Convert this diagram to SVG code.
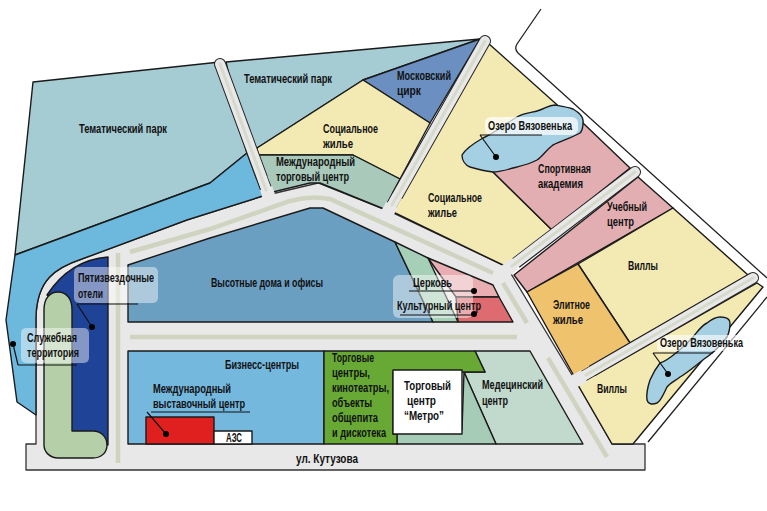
<svg xmlns="http://www.w3.org/2000/svg" width="767" height="511" viewBox="0 0 767 511">
<style>
text{font-family:"Liberation Sans Narrow","Liberation Sans",Arial,sans-serif;font-weight:700;font-size:12px;fill:#111}
.z{stroke:#1a1a1a;stroke-width:1.4;stroke-linejoin:round}
.rb{fill:none;stroke:#222;stroke-width:12;stroke-linecap:butt}
.rg{fill:none;stroke:#e8e8e8;stroke-width:10;stroke-linecap:round}
.rs{fill:none;stroke:#e8e8e8;stroke-width:13;stroke-linecap:butt}
.rc{fill:none;stroke:#cfd4c0;stroke-width:4.5;stroke-linecap:butt}
.rd{fill:none;stroke:#d6dacb;stroke-width:3;stroke-linecap:round}
.lb{fill:#fff;fill-opacity:.45}
.l{fill:none;stroke:#111;stroke-width:1.2}
.d{fill:#000}
</style>
<rect width="767" height="511" fill="#fff"/>
<path id="border" d="M541,9 L517,44 Q514,49 518,53 L767,278 M767,297 L648,442" fill="none" stroke="#222" stroke-width="1.3"/>
<g id="roads">
<path d="M26,444H36V317C37,280 55,268 82,259L187,220L263,196L318,183L393,213L507,267L578,385L612,444H645V470H26Z" fill="#e8e8e8" stroke="#333" stroke-width="1.3" stroke-linejoin="round"/>
</g>
<g id="park1"><path class="z" fill="#a5cbd3" d="M33,82L220,62L247,153L210,183L15,255Z"/><text x="79" y="133" textLength="88" lengthAdjust="spacingAndGlyphs">Тематический парк</text></g>
<g id="service-blue"><path class="z" fill="#6db8dd" d="M15,255L210,183L247,153L263,196L187,220L82,259C55,268 37,280 36,317V415L17,402L6,320Z"/></g>
<g id="park2"><path class="z" fill="#a5cbd3" d="M226,62L480,39L363,80L257,148L247,153Z"/><text x="244" y="83" textLength="88" lengthAdjust="spacingAndGlyphs">Тематический парк</text></g>
<g id="circus"><path class="z" fill="#6b8fc0" d="M480,39L363,80L430,123Z"/><text x="397" y="80" textLength="54" lengthAdjust="spacingAndGlyphs">Московский</text><text x="397" y="95" textLength="24" lengthAdjust="spacingAndGlyphs">цирк</text></g>
<g id="social1"><path class="z" fill="#f3e9b3" d="M363,80L430,123L400,179L353,155H258L257,148Z"/><text x="323" y="133" textLength="55" lengthAdjust="spacingAndGlyphs">Социальное</text><text x="323" y="148" textLength="30" lengthAdjust="spacingAndGlyphs">жилье</text></g>
<g id="trade"><path class="z" fill="#a9c9bb" d="M258,155H353L400,179L384,209L320,183H310L273,192Z"/><text x="276" y="166" textLength="79" lengthAdjust="spacingAndGlyphs">Международный</text><text x="276" y="181" textLength="73" lengthAdjust="spacingAndGlyphs">торговый центр</text></g>
<g id="social2"><path class="z" fill="#f3e9b3" d="M488,43L583,128L493,172L552,230L507,267L393,212Z"/><text x="428" y="202" textLength="54" lengthAdjust="spacingAndGlyphs">Социальное</text><text x="428" y="217" textLength="29" lengthAdjust="spacingAndGlyphs">жилье</text></g>
<g id="sport"><path class="z" fill="#e3aeb1" d="M583,123L630,168L552,230L493,172Z"/><text x="538" y="173" textLength="53" lengthAdjust="spacingAndGlyphs">Спортивная</text><text x="538" y="188" textLength="45" lengthAdjust="spacingAndGlyphs">академия</text></g>
<g id="lake1"><path class="z" fill="#a5cfe3" d="M462,155C466,148 476,142 483,138C495,133 505,124 517,117C525,112 533,113 540,110C546,108 549,105 555,105C561,106 568,107 573,109C580,113 584,118 583,123C583,128 582,131 580,133C571,138 561,141 553,145C546,150 543,156 537,160C530,164 521,166 513,168C506,170 500,172 493,172C485,171 477,169 470,167C465,165 462,160 462,155Z"/><rect class="lb" x="485" y="117" width="93" height="18" rx="6" style="fill-opacity:.72"/><text x="488" y="130" textLength="84" lengthAdjust="spacingAndGlyphs">Озеро Вязовенька</text></g>
<g id="edu"><path class="z" fill="#e3aeb1" d="M638,177L673,208L527,292L514,275Z"/><text x="607" y="211" textLength="40" lengthAdjust="spacingAndGlyphs">Учебный</text><text x="607" y="226" textLength="27" lengthAdjust="spacingAndGlyphs">центр</text></g>
<g id="villas1"><path class="z" fill="#f3e9b3" d="M673,208L748,275L630,343L578,264Z"/><text x="628" y="270" textLength="30" lengthAdjust="spacingAndGlyphs">Виллы</text></g>
<g id="elite"><path class="z" fill="#efc26e" d="M578,264L630,343L574,376L527,292Z"/><text x="553" y="309" textLength="37" lengthAdjust="spacingAndGlyphs">Элитное</text><text x="553" y="324" textLength="30" lengthAdjust="spacingAndGlyphs">жилье</text></g>
<g id="villas2"><path class="z" fill="#f3e9b3" d="M578,385L757,283L763,287L633,444H612Z"/><text x="597" y="393" textLength="30" lengthAdjust="spacingAndGlyphs">Виллы</text></g>
<g id="lake2"><path class="z" fill="#a5cfe3" d="M647,400C646,393 648,386 650,380C653,373 656,368 660,363C668,361 686,345 693,337C698,331 701,326 707,323C712,319 716,317 720,317C726,317 730,319 730,323C730,329 729,333 727,337C721,345 714,352 707,357C697,364 689,372 680,377C675,381 670,383 667,387C664,393 661,401 657,403C652,405 648,404 647,400Z"/><rect class="lb" x="657" y="335" width="88" height="16" rx="3" style="fill-opacity:.6"/><text x="660" y="347" textLength="83" lengthAdjust="spacingAndGlyphs">Озеро Вязовенька</text></g>
<g id="highrise"><path class="z" fill="#6b9fc1" d="M128,265L210,238L310,208H323L395,242L433,322H128Z"/><text x="211" y="287" textLength="112" lengthAdjust="spacingAndGlyphs">Высотные дома и офисы</text></g>
<g id="strip"><path class="z" fill="#a6cfb8" d="M395,242L428,258L458,322H433Z"/></g>
<g id="church"><path class="z" fill="#e8aeb2" d="M428,258L493,285L499,297H456Z"/></g>
<g id="culture"><path class="z" fill="#dd6b6f" d="M456,297H499L513,322H458Z"/></g>
<g id="labels-church"><rect class="lb" x="393" y="275" width="80" height="43" rx="6"/><text x="413" y="287" textLength="39" lengthAdjust="spacingAndGlyphs">Церковь</text><text x="397" y="310" textLength="84" lengthAdjust="spacingAndGlyphs">Культурный центр</text></g>
<g id="business"><path class="z" fill="#75b8de" d="M128,351H324V444H128Z"/><text x="225" y="369" textLength="74" lengthAdjust="spacingAndGlyphs">Бизнесс-центры</text></g>
<g id="medical"><path class="z" fill="#c2dace" d="M475,351H530L583,444H496L464,372H485Z"/><text x="482" y="389" textLength="61" lengthAdjust="spacingAndGlyphs">Медецинский</text><text x="482" y="405" textLength="26" lengthAdjust="spacingAndGlyphs">центр</text></g>
<g id="strip2"><path class="z" fill="#a6cbb7" d="M464,372L496,444H397V430H462Z"/></g>
<g id="shopping"><path class="z" fill="#68a935" d="M324,351H475L485,372H393V434H397V444H324Z"/><text x="332" y="362" textLength="42" lengthAdjust="spacingAndGlyphs">Торговые</text><text x="332" y="377" textLength="38" lengthAdjust="spacingAndGlyphs">центры,</text><text x="332" y="392" textLength="57" lengthAdjust="spacingAndGlyphs">кинотеатры,</text><text x="332" y="407" textLength="40" lengthAdjust="spacingAndGlyphs">объекты</text><text x="332" y="422" textLength="46" lengthAdjust="spacingAndGlyphs">общепита</text><text x="332" y="437" textLength="54" lengthAdjust="spacingAndGlyphs">и дискотека</text></g>
<g id="metro"><rect class="z" fill="#fff" x="393" y="370" width="69" height="64"/><text x="404" y="390" textLength="47" lengthAdjust="spacingAndGlyphs">Торговый</text><text x="407" y="405" textLength="29" lengthAdjust="spacingAndGlyphs">центр</text><text x="404" y="420" textLength="40" lengthAdjust="spacingAndGlyphs">“Метро”</text></g>
<g id="expo"><rect class="z" fill="#e01f1f" x="146" y="417" width="68" height="27"/><text x="153" y="393" textLength="78" lengthAdjust="spacingAndGlyphs">Международный</text><text x="153" y="408" textLength="92" lengthAdjust="spacingAndGlyphs">выставочный центр</text></g>
<g id="azs"><rect class="z" fill="#fff" x="214" y="431" width="38" height="13"/><text x="226" y="442" textLength="16" lengthAdjust="spacingAndGlyphs">АЗС</text></g>
<g id="hotels"><path class="z" fill="#1f4396" d="M108,257V445H60V300L47,295C62,272 82,259 108,257Z"/></g>
<g id="service"><path class="z" fill="#b5cfa8" d="M44,310C44,298 50,292 58,292C66,292 72,298 72,310V431H93C102,431 107,438 107,445C107,452 102,458 93,458H58C50,458 44,452 44,445Z"/></g>
<g id="road-lines">
<path class="rb" d="M220,64L262,178M485,41L397,196M635,172L516,263M753,278L592,371"/>
<circle cx="220" cy="64" r="6" fill="#222"/><circle cx="485" cy="41" r="6" fill="#222"/><circle cx="635" cy="172" r="6" fill="#222"/><circle cx="753" cy="278" r="6" fill="#222"/>
<path class="rg" d="M220,64L268,194M485,41L388,212M635,172L509,268M753,278L580,378"/>
<path class="rs" d="M266,188L270,200M392,205L385,217M514,264L503,273M584,376L571,383"/>
<path class="rd" d="M220,64L266,190M485,41L392,205M635,172L512,266M753,278L586,375"/>
<path class="rc" d="M118,253V463M130,337H517M130,252L210,229L290,201Q310,195 330,199L493,273M503,283L527,323M548,358L607,457"/>
</g>
<g id="labels">
<rect class="lb" x="74" y="267" width="84" height="36" rx="5"/><text x="78" y="282" textLength="76" lengthAdjust="spacingAndGlyphs">Пятизвездочные</text><text x="78" y="298" textLength="25" lengthAdjust="spacingAndGlyphs">отели</text>
<rect class="lb" x="21" y="328" width="68" height="35" rx="5"/><text x="27" y="342" textLength="50" lengthAdjust="spacingAndGlyphs">Служебная</text><text x="27" y="357" textLength="52" lengthAdjust="spacingAndGlyphs">территория</text>
<text x="296" y="463" textLength="62" lengthAdjust="spacingAndGlyphs">ул. Кутузова</text>
</g>
<g id="connectors">
<path class="l" d="M77,304H138M77,304L92,327"/><circle class="d" cx="92" cy="327" r="3"/>
<path class="l" d="M18,365H77M18,365L13,344"/><circle class="d" cx="13" cy="344" r="3"/>
<path class="l" d="M151,412H250M147,412L166,434"/><circle class="d" cx="166" cy="434" r="3"/>
<path class="l" d="M480,135H542M480,135L496,157"/><circle class="d" cx="496" cy="157" r="3"/>
<path class="l" d="M653,353H713M653,353L668,374"/><circle class="d" cx="668" cy="374" r="3"/>
<path class="l" d="M409,291H474"/><circle class="d" cx="474" cy="291" r="3"/>
<path class="l" d="M400,315H474"/><circle class="d" cx="474" cy="314" r="3"/>
</g>
</svg>
